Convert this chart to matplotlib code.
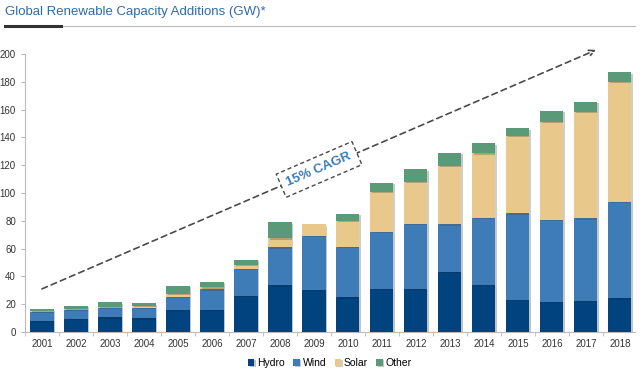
import matplotlib
matplotlib.use("Agg")
import matplotlib.pyplot as plt
import matplotlib.patheffects as pe
import numpy as np

plt.rcParams['font.family'] = ['Liberation Sans', 'DejaVu Sans']

# --- Data (GW) ---
years = [str(y) for y in range(2001, 2019)]
hydro = [8.2, 9.6, 10.6, 9.9, 15.9, 15.8, 25.9, 33.6, 30.2, 25.0, 30.9, 31.0, 43.4, 33.8, 23.0, 21.8, 22.5, 24.2]
wind  = [6.5, 6.4, 6.9, 7.6, 9.6, 14.9, 19.7, 27.3, 38.8, 36.4, 41.0, 46.7, 34.1, 48.5, 62.4, 58.8, 59.3, 69.3]
solar = [0.3, 0.4, 0.8, 1.5, 1.9, 1.4, 2.8, 6.5, 8.5, 18.5, 28.8, 30.3, 41.9, 46.3, 55.9, 70.7, 76.7, 86.5]
other = [1.4, 2.4, 3.1, 1.7, 6.0, 4.1, 3.4, 11.5, 0.0, 5.0, 6.7, 9.0, 9.6, 7.1, 5.2, 7.9, 7.0, 7.0]

series = [("Hydro", hydro, "#00437F"),
          ("Wind", wind, "#3E7CB8"),
          ("Solar", solar, "#E8C98B"),
          ("Other", other, "#5A9A78")]

cagr_label = "15% CAGR"

# --- Figure ---
fig = plt.figure(figsize=(6.4, 3.73), dpi=100)
ax = fig.add_axes([0.039, 0.11, 0.953, 0.745])

x = np.arange(len(years))
bottom = np.zeros(len(years))
shadow = [pe.SimplePatchShadow(offset=(1.2, -1.0), alpha=0.25), pe.Normal()]
for name, vals, col in series:
    bars = ax.bar(x, vals, width=0.68, bottom=bottom, color=col, label=name, zorder=3)
    for b in bars:
        b.set_path_effects(shadow)
    bottom += np.array(vals)

ax.set_xlim(-0.5, 17.44)
ax.set_ylim(0, 200)
ax.set_yticks(range(0, 201, 20))
ax.set_xticks(x)
ax.set_xticklabels(years)
ax.set_xticks(np.arange(-0.5, 17.5, 1), minor=True)
ax.tick_params(axis='x', which='major', length=0, labelsize=7, pad=5, colors='#333333')
ax.tick_params(axis='x', which='minor', length=3, color='#BBBBBB')
ax.tick_params(axis='y', length=3, color='#BBBBBB', labelsize=7, colors='#333333')
for s in ['top', 'right']:
    ax.spines[s].set_visible(False)
for s in ['left', 'bottom']:
    ax.spines[s].set_color('#BBBBBB')

# dashed growth arrow
ax.annotate("", xy=(16.3, 203), xytext=(0, 31),
            arrowprops=dict(arrowstyle="->", linestyle=(0, (3.5, 2.5)), color="#4A4A4A",
                            lw=1.2, shrinkA=0, shrinkB=0),
            annotation_clip=False, zorder=4)
ax.text(8.15, 117, cagr_label, rotation=23.3, ha='center', va='center',
        fontsize=9.5, fontweight='bold', color='#3E7CB8', zorder=5,
        bbox=dict(boxstyle='square,pad=0.5', facecolor='white',
                  edgecolor='#4A4A4A', linestyle=(0, (3, 2)), lw=1))

ax.legend(loc='upper center', bbox_to_anchor=(0.5, -0.06), ncol=4, frameon=False,
          fontsize=7.5, handlelength=0.6, handleheight=0.6, handletextpad=0.3,
          columnspacing=0.8)

# title and rule
fig.text(0.008, 0.968, "Global Renewable Capacity Additions (GW)*", fontsize=9.5,
         color='#2F6CA6', ha='left', va='center')
fig.add_artist(plt.Line2D([0.008, 0.992], [0.93, 0.93], color='#BBBBBB', lw=0.8))
fig.add_artist(plt.Line2D([0.008, 0.095], [0.93, 0.93], color='#333333', lw=2.2))

fig.savefig("out.png", dpi=100)
